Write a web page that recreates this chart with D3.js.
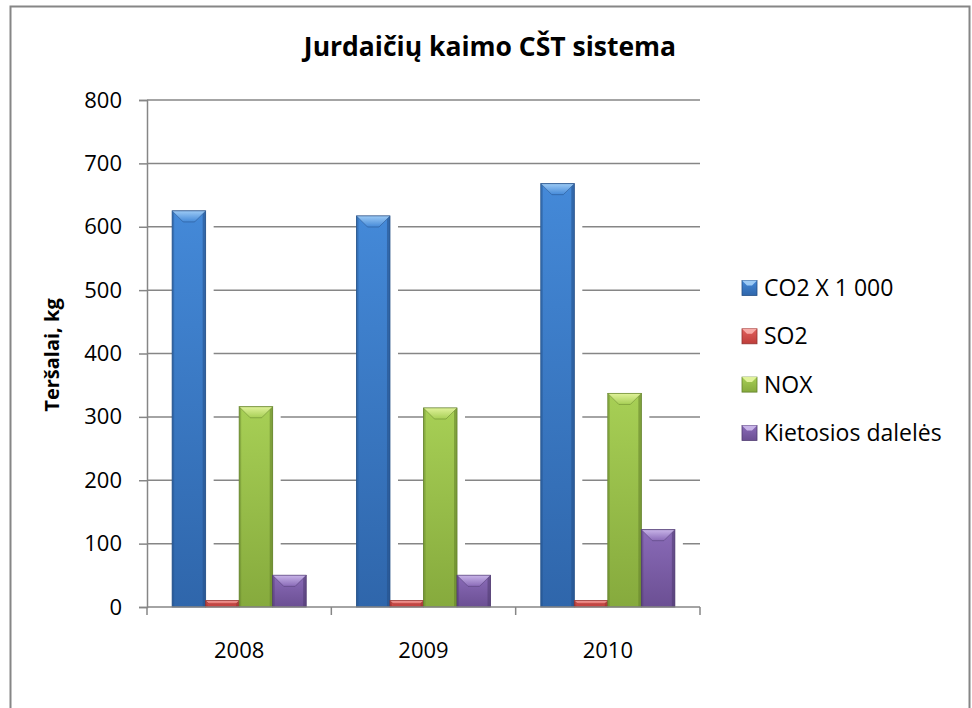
<!DOCTYPE html>
<html>
<head>
<meta charset="utf-8">
<script src="https://cdn.jsdelivr.net/npm/d3@7"></script>
<style>
  body { margin: 0; background: #fff; }
  text { font-family: "Open Sans", "Noto Sans", sans-serif; fill: #000; }
</style>
</head>
<body>
<div class="bar-chart"></div>
<script>
// data
const years = ["2008", "2009", "2010"];
const seriesNames = ["CO2 X 1 000", "SO2", "NOX", "Kietosios dalelės"];
const co2 = [625, 617, 668];
const so2 = [10, 10, 10];
const nox = [316, 314, 337];
const particles = [50, 50, 122];
const yTicks = [0, 100, 200, 300, 400, 500, 600, 700, 800];

const values = [co2, so2, nox, particles];

// colours per series: base, light (bevel), dark (edges)
const palette = [
  { base: "#3b7bc9", top: "#4489d8", bottom: "#2f66ab", light: "#9ccaf5", dark: "#244f86" },
  { base: "#d84b48", top: "#e0605c", bottom: "#bf3d3a", light: "#f7aaa6", dark: "#92302d" },
  { base: "#9bc24c", top: "#a7cf55", bottom: "#86aa3d", light: "#e0f29a", dark: "#62802a" },
  { base: "#7d5da8", top: "#8a6bb8", bottom: "#6b4f93", light: "#c8b4e8", dark: "#4f3a70" }
];

const W = 972, H = 708;
const margin = { top: 100, right: 272, bottom: 101, left: 147 };
const width = W - margin.left - margin.right;
const height = H - margin.top - margin.bottom;

const svg = d3.select(".bar-chart")
  .append("svg")
  .attr("width", W)
  .attr("height", H);

const defs = svg.append("defs");
palette.forEach((p, i) => {
  const g = defs.append("linearGradient")
    .attr("id", "grad" + i)
    .attr("x1", 0).attr("y1", 0).attr("x2", 0).attr("y2", 1);
  g.append("stop").attr("offset", "0%").attr("stop-color", p.top);
  g.append("stop").attr("offset", "100%").attr("stop-color", p.bottom);
  const b = defs.append("linearGradient")
    .attr("id", "bevel" + i)
    .attr("x1", 0).attr("y1", 0).attr("x2", 0).attr("y2", 1);
  b.append("stop").attr("offset", "0%").attr("stop-color", p.light);
  b.append("stop").attr("offset", "100%").attr("stop-color", p.top);
});

// outer chart frame
svg.append("rect")
  .attr("x", 10.5).attr("y", 6.5)
  .attr("width", 959).attr("height", 730)
  .attr("fill", "none")
  .attr("stroke", "#868686")
  .attr("stroke-width", 2);

svg.append("text")
  .attr("x", 490).attr("y", 56)
  .attr("text-anchor", "middle")
  .attr("font-weight", "bold")
  .attr("font-size", 26.5)
  .text("Jurdaičių kaimo CŠT sistema");

const plot = svg.append("g")
  .attr("transform", `translate(${margin.left},${margin.top})`);

const yScale = d3.scaleLinear().domain([0, 800]).range([height, 0]);
const x0 = d3.scaleBand().domain(years).range([0, width]).padding(0);
const x1 = d3.scaleBand().domain(d3.range(seriesNames.length))
  .range([0, x0.bandwidth()]).paddingInner(0).paddingOuter(0.75);

// gridlines
plot.append("g")
  .selectAll("line")
  .data(yTicks.slice(1))
  .join("line")
  .attr("x1", 0).attr("x2", width)
  .attr("y1", d => yScale(d)).attr("y2", d => yScale(d))
  .attr("stroke", "#868686")
  .attr("stroke-width", 1.5);

// y axis
const yAxis = d3.axisLeft(yScale).tickValues(yTicks).tickSize(8).tickPadding(17);
const yAxisGroup = plot.append("g").attr("class", "axis y-axis").call(yAxis);
yAxisGroup.select(".domain").attr("stroke", "#868686").attr("stroke-width", 1.5);
yAxisGroup.selectAll(".tick line").attr("stroke", "#868686").attr("stroke-width", 1.5);
yAxisGroup.selectAll(".tick text")
  .attr("font-size", 22)
  .attr("font-family", "'Open Sans', sans-serif")
  .attr("fill", "#000");

// bars
const rows = years.map((y, yi) => seriesNames.map((s, si) => ({ year: y, si, v: values[si][yi] })));
const groups = plot.append("g").selectAll("g")
  .data(rows)
  .join("g")
  .attr("transform", d => `translate(${x0(d[0].year)},0)`);

// white halo right of bars (breaks gridlines, like the original)
groups.selectAll(".halo")
  .data(d => d)
  .join("rect")
  .attr("class", "halo")
  .attr("x", d => x1(d.si))
  .attr("y", d => yScale(d.v) + 2)
  .attr("width", x1.bandwidth() + 8)
  .attr("height", d => height - yScale(d.v) - 2)
  .attr("fill", "#fff");

const bar = groups.selectAll(".bar")
  .data(d => d)
  .join("g")
  .attr("class", "bar");

const bw = x1.bandwidth();
bar.append("rect")
  .attr("x", d => x1(d.si))
  .attr("y", d => yScale(d.v))
  .attr("width", bw)
  .attr("height", d => height - yScale(d.v))
  .attr("fill", d => `url(#grad${d.si})`)
  .attr("stroke", d => palette[d.si].dark)
  .attr("stroke-width", 0.8);

// side shading
bar.append("rect")
  .attr("x", d => x1(d.si) + bw - 3)
  .attr("y", d => yScale(d.v))
  .attr("width", 3)
  .attr("height", d => height - yScale(d.v))
  .attr("fill", d => palette[d.si].dark)
  .attr("opacity", 0.55);
bar.append("rect")
  .attr("x", d => x1(d.si))
  .attr("y", d => yScale(d.v))
  .attr("width", 2)
  .attr("height", d => height - yScale(d.v))
  .attr("fill", d => palette[d.si].dark)
  .attr("opacity", 0.4);

// top bevel
bar.append("path")
  .attr("d", d => {
    const x = x1(d.si), t = yScale(d.v);
    const b = Math.min(11, (height - t) / 2, bw / 2);
    return `M${x},${t}L${x + bw},${t}L${x + bw - b},${t + b}L${x + b},${t + b}Z`;
  })
  .attr("fill", d => `url(#bevel${d.si})`)
  .attr("stroke", d => palette[d.si].dark)
  .attr("stroke-width", 0.5);

// x axis
plot.append("line")
  .attr("x1", 0).attr("x2", width)
  .attr("y1", height).attr("y2", height)
  .attr("stroke", "#868686").attr("stroke-width", 1.5);
const boundaries = years.map(y => x0(y)).concat([width]);
plot.append("g").selectAll("line")
  .data(boundaries)
  .join("line")
  .attr("x1", d => d).attr("x2", d => d)
  .attr("y1", height).attr("y2", height + 8)
  .attr("stroke", "#868686").attr("stroke-width", 1.5);
plot.append("g").selectAll("text")
  .data(years)
  .join("text")
  .attr("x", d => x0(d) + x0.bandwidth() / 2)
  .attr("y", height + 51)
  .attr("text-anchor", "middle")
  .attr("font-size", 22)
  .text(d => d);

// y title
svg.append("text")
  .attr("transform", "translate(59,355) rotate(-90)")
  .attr("text-anchor", "middle")
  .attr("font-weight", "bold")
  .attr("font-size", 20)
  .text("Teršalai, kg");

// legend
const legend = svg.append("g").attr("transform", "translate(742,288)");
const item = legend.selectAll("g")
  .data(seriesNames)
  .join("g")
  .attr("transform", (d, i) => `translate(0,${i * 48.3})`);
item.append("rect")
  .attr("x", 0).attr("y", -7.5)
  .attr("width", 15).attr("height", 15)
  .attr("fill", (d, i) => `url(#grad${i})`)
  .attr("stroke", (d, i) => palette[i].dark)
  .attr("stroke-width", 0.8);
item.append("path")
  .attr("d", "M0,-7.5L15,-7.5L10,-2.5L5,-2.5Z")
  .attr("fill", (d, i) => palette[i].light);
item.append("text")
  .attr("x", 22)
  .attr("dy", "0.35em")
  .attr("font-size", 23)
  .text(d => d);
</script>
</body>
</html>
